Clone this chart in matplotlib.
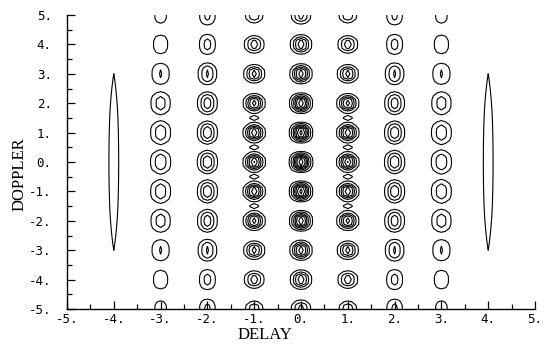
import numpy as np
import matplotlib
matplotlib.use("Agg")
import matplotlib.pyplot as plt
from matplotlib.ticker import MultipleLocator, FuncFormatter

# peak centres (delay columns, doppler rows)
delay_cols = [-3, -2, -1, 0, 1, 2, 3]
doppler_rows = [5, 4, 3, 2, 1, 0, -1, -2, -3, -4, -5]

# peak heights read from the number of rings round each peak
peak_height = [
    [0.15, 0.26, 0.32, 0.40, 0.32, 0.26, 0.15],
    [0.18, 0.27, 0.42, 0.55, 0.42, 0.27, 0.18],
    [0.23, 0.36, 0.52, 0.66, 0.52, 0.36, 0.23],
    [0.28, 0.42, 0.64, 0.80, 0.64, 0.42, 0.28],
    [0.30, 0.44, 0.68, 0.88, 0.68, 0.44, 0.30],
    [0.31, 0.45, 0.70, 0.92, 0.70, 0.45, 0.31],
    [0.30, 0.44, 0.68, 0.88, 0.68, 0.44, 0.30],
    [0.28, 0.42, 0.64, 0.80, 0.64, 0.42, 0.28],
    [0.23, 0.36, 0.52, 0.66, 0.52, 0.36, 0.23],
    [0.18, 0.27, 0.42, 0.55, 0.42, 0.27, 0.18],
    [0.15, 0.26, 0.32, 0.40, 0.32, 0.26, 0.15],
]
# spread of each column's peaks
col_width_delay = [0.14, 0.12, 0.12, 0.12, 0.12, 0.12, 0.14]
col_width_doppler = [0.30, 0.27, 0.20, 0.21, 0.20, 0.27, 0.30]

# small side lobes next to the +-1 delay peaks
side_delay = [-1, -1, -1, -1, 1, 1, 1, 1]
side_doppler = [1.5, 0.5, -0.5, -1.5, 1.5, 0.5, -0.5, -1.5]
side_height = 0.16

# long thin ridges at delay +-4
ridge_delay = [-4, 4]
ridge_height = 0.2

levels = [0.1, 0.22, 0.34, 0.46, 0.58, 0.70, 0.82]

# coarse evaluation grid, like the original plotter output
x = np.linspace(-5, 5, 121)
y = np.linspace(-5, 5, 81)
X, Y = np.meshgrid(x, y)
Z = np.zeros_like(X)
for j, dop in enumerate(doppler_rows):
    for i, dl in enumerate(delay_cols):
        sx = col_width_delay[i]
        sy = col_width_doppler[i]
        Z += peak_height[j][i] * np.exp(-(X - dl)**2 / (2*sx**2) - 0.5*np.abs((Y - dop) / sy)**3)
for dl, dop in zip(side_delay, side_doppler):
    Z += side_height * np.exp(-(X - dl)**2 / (2*0.1**2) - (Y - dop)**2 / (2*0.08**2))
for dl in ridge_delay:
    Z += ridge_height * np.exp(-(X - dl)**2 / (2*0.085**2) - Y**2 / (2*2.55**2))

fig = plt.figure(figsize=(5.55, 3.49), dpi=100)
ax = fig.add_axes([67/555, 1 - 309/349, 468/555, 294/349])
ax.contour(X, Y, Z, levels=levels, colors="black", linewidths=0.8)

ax.set_xlim(-5, 5)
ax.set_ylim(-5, 5)
ax.spines["top"].set_visible(False)
ax.spines["right"].set_visible(False)
ax.spines["left"].set_linewidth(1.0)
ax.spines["bottom"].set_linewidth(1.0)
ax.xaxis.set_major_locator(MultipleLocator(1))
ax.yaxis.set_major_locator(MultipleLocator(1))
ax.xaxis.set_minor_locator(MultipleLocator(0.5))
ax.yaxis.set_minor_locator(MultipleLocator(0.5))
fmt = FuncFormatter(lambda v, p: "%d." % int(round(v)))
ax.xaxis.set_major_formatter(fmt)
ax.yaxis.set_major_formatter(fmt)
ax.tick_params(which="both", direction="in", top=False, right=False, width=0.9)
ax.tick_params(which="major", length=6)
ax.tick_params(which="minor", length=3.5)
ax.tick_params(axis="x", pad=3, labelsize=9)
ax.tick_params(axis="y", pad=11, labelsize=9)
for lab in ax.get_xticklabels() + ax.get_yticklabels():
    lab.set_family("DejaVu Sans Mono")

fig.text(265/555, 1 - 335/349, "DELAY", family="Liberation Serif", fontsize=12,
         ha="center", va="center")
fig.text(20/555, 1 - 174/349, "DOPPLER", family="Liberation Serif", fontsize=12,
         ha="center", va="center", rotation=90)

fig.savefig("out.png", dpi=100)
